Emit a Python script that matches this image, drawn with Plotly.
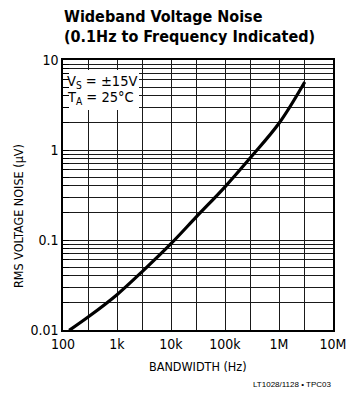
import plotly.graph_objects as go

# Data
bandwidth_hz = [130, 300, 1000, 3000, 10000, 30000, 100000, 300000, 1000000, 3000000]
rms_noise_uv = [0.0099, 0.0141, 0.0247, 0.0452, 0.091, 0.183, 0.39, 0.83, 1.98, 5.7]

x_major = [100, 1000, 10000, 100000, 1000000, 10000000]
x_labels = ["100", "1k", "10k", "100k", "1M", "10M"]
x_minor = [300, 3000, 30000, 300000, 3000000]

y_major = [0.01, 0.1, 1, 10]
y_labels = ["0.01", "0.1", "1", "10"]
y_minor = [m * d for d in (0.01, 0.1, 1) for m in range(2, 10)]

title_line1 = "Wideband Voltage Noise"
title_line2 = "(0.1Hz to Frequency Indicated)"
x_title = "BANDWIDTH (Hz)"
y_title = "RMS VOLTAGE NOISE (µV)"
footnote = "LT1028/1128 • TPC03"
cond1 = "V<sub>S</sub> = ±15V"
cond2 = "T<sub>A</sub> = 25°C"

W, H = 361, 396
L, R, T, B = 63, 28, 60, 66
PW, PH = W - L - R, H - T - B
XR = (2, 7)
YR = (-2, 1)

def px_x(p):
    return (p - L) / PW

def px_y(p):
    return (H - B - p) / PH

def data_x(p):
    return 10 ** (XR[0] + px_x(p) * (XR[1] - XR[0]))

def data_y(p):
    return 10 ** (YR[0] + px_y(p) * (YR[1] - YR[0]))

FONT = "DejaVu Sans Condensed, Liberation Sans, Arial, sans-serif"
GRID = "#1a1a1a"

fig = go.Figure()
fig.add_trace(go.Scatter(
    x=bandwidth_hz, y=rms_noise_uv, mode="lines",
    line=dict(color="black", width=3.2, shape="spline", smoothing=1.0),
    showlegend=False, hoverinfo="skip",
))

fig.update_layout(
    width=W, height=H,
    margin=dict(l=L, r=R, t=T, b=B, pad=0),
    paper_bgcolor="white", plot_bgcolor="white",
    font=dict(family=FONT, size=14, color="black"),
    showlegend=False,
)

fig.update_xaxes(
    type="log", range=list(XR),
    tickmode="array", tickvals=x_major, ticktext=x_labels,
    showgrid=True, gridcolor=GRID, gridwidth=1,
    showline=True, linecolor="black", linewidth=1.5, mirror=True,
    ticks="", tickfont=dict(family=FONT, size=14, color="black"),
    minor=dict(tickmode="array", tickvals=x_minor, showgrid=True,
               gridcolor=GRID, gridwidth=1, ticks=""),
    zeroline=False,
)
fig.update_yaxes(
    type="log", range=list(YR),
    tickmode="array", tickvals=y_major, ticktext=y_labels,
    showgrid=True, gridcolor=GRID, gridwidth=1,
    showline=True, linecolor="black", linewidth=1.5, mirror=True,
    ticks="inside", ticklen=6, tickcolor="black", tickwidth=1,
    tickfont=dict(family=FONT, size=14, color="black"),
    minor=dict(tickmode="array", tickvals=y_minor, showgrid=True,
               gridcolor=GRID, gridwidth=1, ticks="inside", ticklen=6,
               tickcolor="black", tickwidth=1),
    zeroline=False,
)

# white box behind the conditions text (covers grid, not the axis ticks)
fig.add_shape(type="rect", xref="x", yref="y",
              x0=data_x(L + 0.8), x1=data_x(139), y0=data_y(110), y1=data_y(70),
              fillcolor="white", line=dict(width=0), layer="between")

ann = []
ann.append(dict(text=cond1, x=px_x(65), y=px_y(82), xanchor="left", yanchor="middle",
                font=dict(size=14.5)))
ann.append(dict(text=cond2, x=px_x(65), y=px_y(98), xanchor="left", yanchor="middle",
                font=dict(size=14.5)))
ann.append(dict(text=title_line1, x=px_x(62), y=px_y(16.5), xanchor="left", yanchor="middle",
                font=dict(size=16, weight="bold")))
ann.append(dict(text=title_line2, x=px_x(62), y=px_y(36), xanchor="left", yanchor="middle",
                font=dict(size=16, weight="bold")))
ann.append(dict(text=x_title, x=px_x(198), y=px_y(366), xanchor="center", yanchor="middle",
                font=dict(size=12.5)))
ann.append(dict(text=y_title, x=px_x(19), y=px_y(216), xanchor="center", yanchor="middle",
                textangle=-90, font=dict(size=12.5)))
ann.append(dict(text=footnote, x=px_x(334), y=px_y(384), xanchor="right", yanchor="middle",
                font=dict(size=8, family="Liberation Sans, Arial, sans-serif")))
for a in ann:
    a.update(xref="paper", yref="paper", showarrow=False)
fig.update_layout(annotations=ann)

fig.write_html("out.html")
